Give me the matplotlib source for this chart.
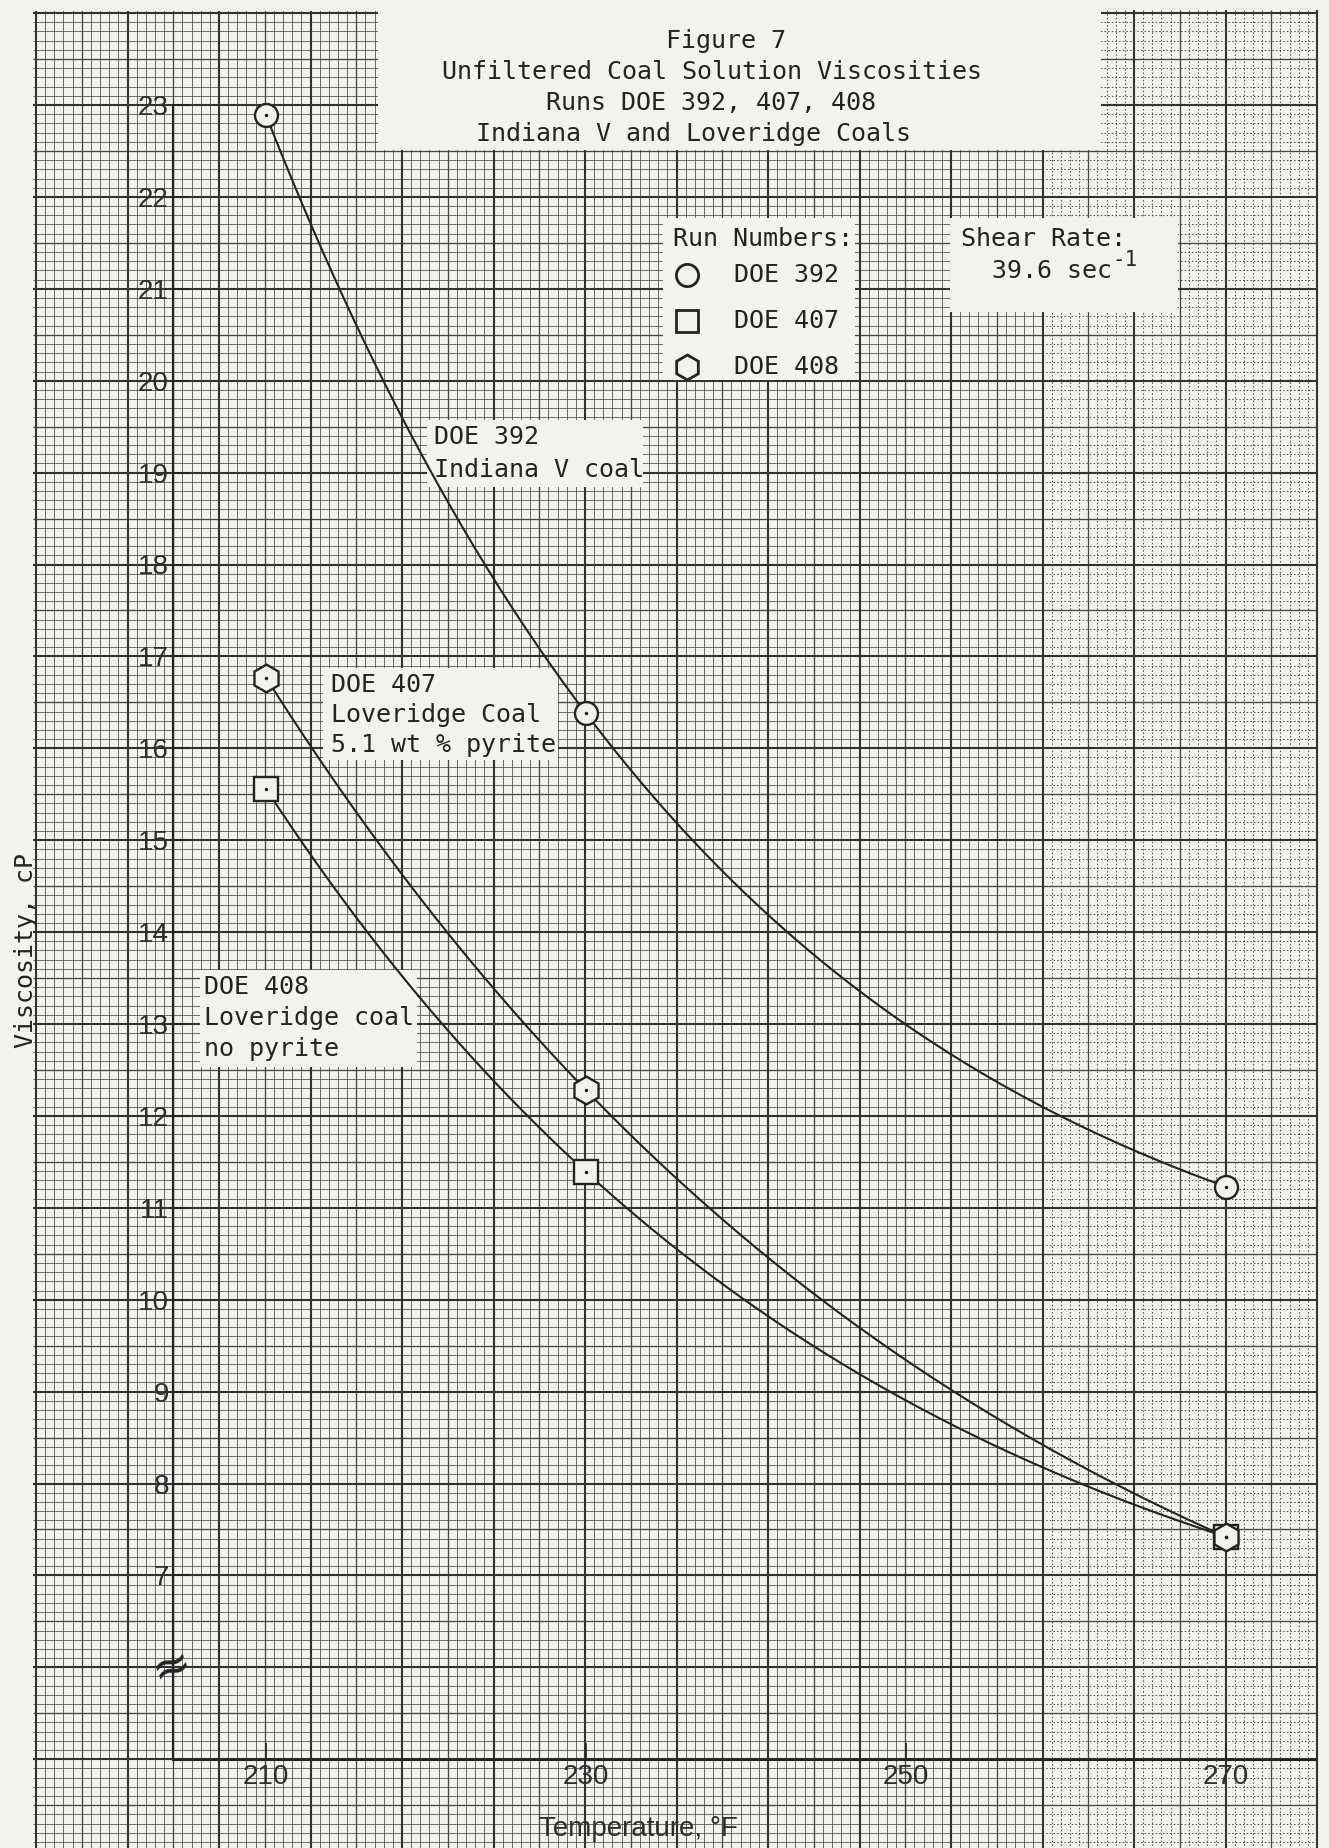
import numpy as np
import matplotlib
matplotlib.use("Agg")
import matplotlib.pyplot as plt
import matplotlib.transforms as mtransforms
from matplotlib.collections import LineCollection
from matplotlib.patches import Rectangle

# ---- data --------------------------------------------------------------
temps = [210, 230, 270]                 # deg F
doe392 = [22.89, 16.38, 11.23]          # circles, Indiana V coal
doe407 = [15.56, 11.39, 7.42]           # squares
doe408 = [16.77, 12.28, 7.42]           # hexagons
run_names = ["DOE 392", "DOE 407", "DOE 408"]
run_values = [doe392, doe407, doe408]
run_markers = ["o", "s", "h"]
run_msize = [16.5, 17.5, 20]

yticks = list(range(7, 24))
xticks = [210, 230, 250, 270]

title_lines = ["Figure 7",
               "Unfiltered Coal Solution Viscosities",
               "Runs DOE 392, 407, 408",
               "Indiana V and Loveridge Coals"]

PAPER = "#f4f2ec"
INK = "#232323"
GRID = "#474747"
MONO = "DejaVu Sans Mono"
SANS = "Liberation Sans"

W, H = 1329, 1848


def exp_fit(x, y):
    """smooth decay curve y = A + B*exp(-k (x-x0)) through three points"""
    x = np.asarray(x, float); y = np.asarray(y, float)
    t = x - x[0]
    target = (y[0] - y[1]) / (y[0] - y[2])
    lo, hi = 1e-6, 1.0
    for _ in range(200):
        k = 0.5 * (lo + hi)
        val = (1 - np.exp(-k * t[1])) / (1 - np.exp(-k * t[2]))
        if val < target: lo = k
        else: hi = k
    B = (y[0] - y[1]) / (1 - np.exp(-k * t[1]))
    A = y[0] - B
    return lambda xx: A + B * np.exp(-k * (np.asarray(xx, float) - x[0]))


fig = plt.figure(figsize=(W / 100, H / 100), dpi=100)
fig.patch.set_facecolor(PAPER)

# ---- graph paper (pixel coordinates) -----------------------------------
bg = fig.add_axes([0, 0, 1, 1])
bg.set_xlim(0, W); bg.set_ylim(H, 0); bg.axis("off")

gx0, gx1, gy0, gy1 = 33, 1317, 10, 1848
dot_x = 1042
minor_s, minor_d, medium, heavy = [], [], [], []
for i in range(0, 141):
    x = 36 + 9.15 * i
    seg = [(x, gy0), (x, gy1)]
    if i % 10 == 0: heavy.append(seg)
    elif i % 5 == 0: medium.append(seg)
    elif x > dot_x: minor_d.append(seg)
    else: minor_s.append(seg)
for j in range(-10, 190):
    y = 105 + 9.19 * j
    if y < gy0: continue
    if j % 10 == 0: heavy.append([(gx0, y), (gx1, y)])
    elif j % 5 == 0: medium.append([(gx0, y), (gx1, y)])
    else:
        minor_s.append([(gx0, y), (dot_x, y)])
        minor_d.append([(dot_x, y), (gx1, y)])

bg.add_collection(LineCollection(minor_s, colors=GRID, linewidths=0.6, alpha=0.9))
bg.add_collection(LineCollection(minor_d, colors=GRID, linewidths=0.75, alpha=0.9,
                                 linestyles=[(0, (1.5, 2.0))]))
bg.add_collection(LineCollection(medium, colors=GRID, linewidths=0.95))
bg.add_collection(LineCollection(heavy, colors="#333333", linewidths=1.5))

# pasted-on label patches
for (x0, y0, x1, y1) in [(378, 0, 1101, 150), (0, 0, 378, 11),
                         (663, 218, 855, 380), (950, 218, 1178, 312),
                         (427, 420, 643, 487), (323, 668, 558, 760),
                         (200, 970, 417, 1067)]:
    bg.add_patch(Rectangle((x0, y0), x1 - x0, y1 - y0, facecolor=PAPER,
                           edgecolor="none", zorder=3))

# ---- data axes --------------------------------------------------------
x_px210, px_per_F = 266, 16.0
y_px23, px_per_cP = 105, 91.9
L, R, T, B = 173, 1317, 105, 1760
ax = fig.add_axes([L / W, 1 - B / H, (R - L) / W, (B - T) / H])
ax.set_xlim(210 + (L - x_px210) / px_per_F, 210 + (R - x_px210) / px_per_F)
ax.set_ylim(23 - (B - y_px23) / px_per_cP, 23)
ax.patch.set_alpha(0)
for s in ["top", "right"]:
    ax.spines[s].set_visible(False)
ax.spines["left"].set_linewidth(1.6); ax.spines["left"].set_color(INK)
ax.spines["bottom"].set_linewidth(1.5); ax.spines["bottom"].set_color(INK)

ax.set_xticks(xticks)
ax.set_yticks(yticks)
ax.tick_params(direction="in", length=12, width=1.2, color=INK,
               labelcolor="#2e2e2e", labelsize=20, pad=3)
for lab in ax.get_xticklabels() + ax.get_yticklabels():
    lab.set_family(SANS)

tt = np.linspace(temps[0], temps[-1], 300)
for name, vals, mk, ms in zip(run_names, run_values, run_markers, run_msize):
    f = exp_fit(temps, vals)
    ax.plot(tt, f(tt), color=INK, lw=1.5, zorder=4, clip_on=False)
    ax.plot(temps, vals, ls="none", marker=mk, ms=ms, mfc=PAPER, mec=INK,
            mew=1.7, zorder=5, clip_on=False)
    ax.plot(temps, vals, ls="none", marker=".", ms=3, color=INK, zorder=6,
            clip_on=False)

# axis break mark at 6
brk = mtransforms.blended_transform_factory(ax.transAxes, ax.transData)
ax.text(0, 6, "≈", transform=brk, ha="center", va="center", fontsize=34,
        rotation=20, color=INK, zorder=7)

# ---- text -------------------------------------------------------------
for k, (line, xc) in enumerate(zip(title_lines, [726, 712, 711, 694])):
    bg.text(xc, 41 + 31 * k, line, ha="center", va="center", family=MONO,
            fontsize=18, color=INK, zorder=5)

def block(x, y, lines, step=31):
    for k, line in enumerate(lines):
        bg.text(x, y + step * k, line, ha="left", va="center", family=MONO,
                fontsize=18, color=INK, zorder=5)

block(434, 437, ["DOE 392", "Indiana V coal"], step=33)
block(331, 685, ["DOE 407", "Loveridge Coal", "5.1 wt % pyrite"], step=30)
block(204, 987, ["DOE 408", "Loveridge coal", "no pyrite"], step=31)

# run numbers key
block(673, 239, ["Run Numbers:"])
for k, (name, mk) in enumerate(zip(run_names, run_markers)):
    yk = 275 + 46 * k
    bg.plot([687], [yk], marker=mk, ms=16 if mk != "h" else 18, mfc=PAPER,
            mec=INK, mew=2.0, ls="none", zorder=5)
    bg.text(734, yk, name, ha="left", va="center", family=MONO, fontsize=18,
            color=INK, zorder=5)

# shear rate
block(961, 239, ["Shear Rate:"])
bg.text(992, 271, "39.6 sec", ha="left", va="center", family=MONO,
        fontsize=18, color=INK, zorder=5)
bg.text(1112, 260, "-1", ha="left", va="center", family=MONO,
        fontsize=15, color=INK, zorder=5)

# axis titles
bg.text(26, 950, "Viscosity, cP", rotation=90, ha="center", va="center",
        family=MONO, fontsize=18, color=INK, zorder=5)
bg.text(638, 1829, "Temperature, °F", ha="center", va="center",
        family=SANS, fontsize=20, color="#2e2e2e", zorder=5)

fig.savefig("out.png", dpi=100, facecolor=PAPER)
